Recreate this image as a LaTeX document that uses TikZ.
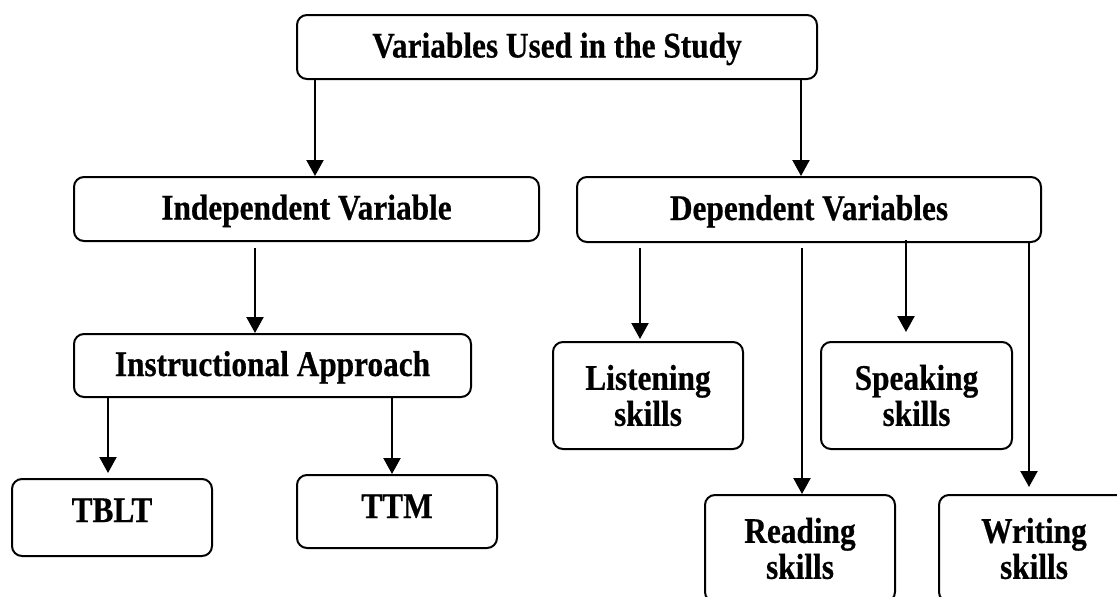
\documentclass[tikz,border=0pt]{standalone}
\usepackage{fontspec}
\setmainfont{Liberation Serif}[FakeStretch=0.87,FakeBold=0.5]
\usetikzlibrary{arrows.meta}

\begin{document}
\begin{tikzpicture}[x=1pt,y=-1pt,
  box/.style={draw,line width=2pt,rounded corners=10pt,inner sep=0pt,
    font=\fontsize{36}{36}\selectfont\bfseries,align=center},
  onebox/.style={box,text height=24pt,text depth=3pt},
  arr/.style={line width=2.2pt,-{Triangle[width=17pt,length=16pt]}}]

\useasboundingbox (0,0) rectangle (1117,597);
\clip (0,0) rectangle (1117,597);

\node[onebox,minimum width=520pt,minimum height=64pt] (top) at (557,47) {Variables Used in the Study};

\node[onebox,minimum width=465pt,minimum height=64pt] (indep) at (306.5,209) {Independent Variable};
\node[onebox,minimum width=464pt,minimum height=65pt] (dep) at (809,209.5) {Dependent Variables};

\node[onebox,minimum width=397pt,minimum height=63pt] (instr) at (272.5,365.5) {Instructional Approach};
\node[onebox,text depth=15pt,minimum width=200pt,minimum height=77pt] (tblt) at (112,517.5) {TBLT};
\node[onebox,text depth=11pt,minimum width=200pt,minimum height=73pt] (ttm) at (397,511.5) {TTM};

\node[box,minimum width=190pt,minimum height=107pt] (listen) at (648,395.5) {Listening\\skills};
\node[box,minimum width=191pt,minimum height=107pt] (speak) at (916.5,395.5) {Speaking\\skills};
\node[box,minimum width=190pt,minimum height=107pt] (read) at (800,548.5) {Reading\\skills};
\node[box,minimum width=190pt,minimum height=107pt] (write) at (1034,548.5) {Writing\\skills};

% top level
\draw[arr] ([xshift=19pt]top.south west) -- ([xshift=242pt]indep.north west);
\draw[arr] ([xshift=505pt]top.south west) -- ([xshift=225pt]dep.north west);

% independent side
\draw[arr,shorten <=6pt] ([xshift=182pt]indep.south west) -- ([xshift=182pt]instr.north west);
\draw[arr,shorten >=5pt] ([xshift=35pt]instr.south west) -- ([xshift=97pt]tblt.north west);
\draw[arr] ([xshift=319pt]instr.south west) -- ([xshift=96pt]ttm.north west);

% dependent side
\draw[arr,shorten <=5pt,shorten >=2pt] ([xshift=64pt]dep.south west) -- ([xshift=88pt]listen.north west);
\draw[arr,shorten <=5pt] ([xshift=226pt]dep.south west) -- ([xshift=98pt]read.north west);
\draw[arr,shorten <=-3pt,shorten >=9pt] ([xshift=330pt]dep.south west) -- ([xshift=86pt]speak.north west);
\draw[arr,shorten >=7pt] ([xshift=453pt]dep.south west) -- ([xshift=91pt]write.north west);

\end{tikzpicture}
\end{document}
